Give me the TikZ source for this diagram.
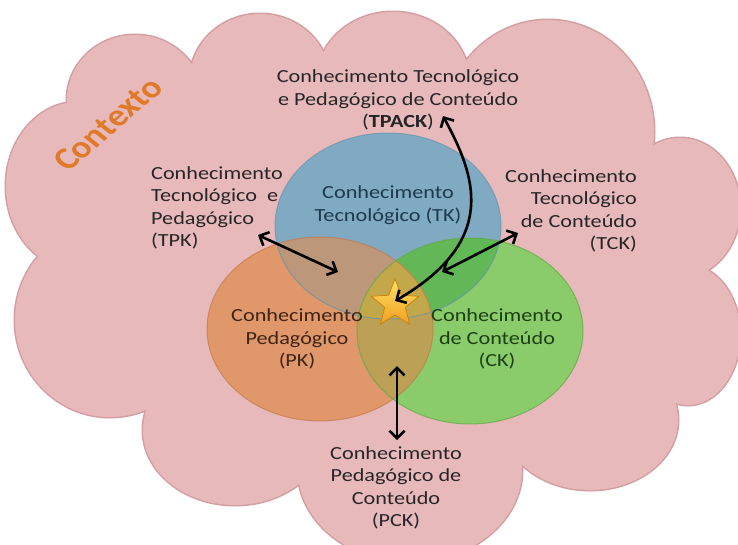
\documentclass[tikz,border=0pt]{standalone}
\usepackage{fontspec}
\setmainfont{Carlito}[FakeStretch=1.2]
\newfontfamily\ctxfont{Carlito}
\usetikzlibrary{arrows.meta,shapes.geometric}
\definecolor{cloudpink}{HTML}{E8B9BB}
\definecolor{cloudedge}{HTML}{D39EA2}
\definecolor{tkblue}{HTML}{80AAC2}
\definecolor{pkorange}{HTML}{E0976A}
\definecolor{ckgreen}{HTML}{8ACB6A}
\definecolor{tkpk}{HTML}{BC977A}
\definecolor{tkck}{HTML}{62B856}
\definecolor{pkck}{HTML}{BBA055}
\definecolor{allc}{HTML}{C2A84A}
\definecolor{tkedge}{HTML}{6893AC}
\definecolor{pkedge}{HTML}{C47A4C}
\definecolor{ckedge}{HTML}{62A843}
\definecolor{txtgray}{HTML}{262626}
\definecolor{tktext}{HTML}{1E3A4C}
\definecolor{pktext}{HTML}{3E2415}
\definecolor{cktext}{HTML}{1C3F14}
\definecolor{ctxorange}{HTML}{E07A28}
\definecolor{starA}{HTML}{FFE066}
\definecolor{starB}{HTML}{F0A020}
\definecolor{staredge}{HTML}{C8860E}
\tikzset{
  lbl/.style={font=\fontsize{18.5}{22.5}\selectfont, text=txtgray, inner sep=0pt},
  arr/.style={line width=2.6pt, black,
    {Straight Barb[length=7.5pt,width=15pt,line width=2.6pt]}-{Straight Barb[length=7.5pt,width=15pt,line width=2.6pt]}},
}
\begin{document}
\begin{tikzpicture}[x=1pt,y=-1pt]
\useasboundingbox (0,0) rectangle (738,544);
\fill[white] (0,0) rectangle (738,544);
\begin{scope}
\clip (0,0) rectangle (738,544);
% cloud as union of bumps
\def\cloudbumps{
  (78,186) ellipse [x radius=72, y radius=84]
  (135,100) ellipse [x radius=68, y radius=65]
  (260,80) ellipse [x radius=70, y radius=66]
  (393,80) ellipse [x radius=76, y radius=68]
  (548,132) ellipse [x radius=106, y radius=112]
  (680,208) ellipse [x radius=60, y radius=70]
  (688,335) ellipse [x radius=52, y radius=70]
  (590,420) ellipse [x radius=88, y radius=70]
  (410,470) ellipse [x radius=112, y radius=92]
  (235,430) ellipse [x radius=92, y radius=75]
  (110,320) ellipse [x radius=95, y radius=97]
}
\draw[cloudedge, line width=3pt] \cloudbumps;
\fill[cloudpink] \cloudbumps;
\fill[cloudpink] (78,186) -- (135,100) -- (260,80) -- (393,80) -- (548,132) -- (680,208)
  -- (688,335) -- (590,420) -- (410,470) -- (235,430) -- (110,320) -- cycle;
\end{scope}
% Contexto
\begin{scope}[shift={(108,124)}, xscale=1.2]
\node[rotate=46, transform shape, inner sep=0pt, text=ctxorange,
  font=\ctxfont\bfseries\fontsize{31}{36}\selectfont] (ctx) at (0,0) {Contexto};
\end{scope}
% ellipses
\def\TK{(388,226) ellipse [x radius=113, y radius=93]}
\def\PK{(320,329) ellipse [x radius=113, y radius=92]}
\def\CK{(470,331) ellipse [x radius=113, y radius=93]}
\fill[pkorange] \PK;
\fill[ckgreen] \CK;
\fill[tkblue] \TK;
\begin{scope}\clip \TK; \fill[tkpk] \PK; \end{scope}
\begin{scope}\clip \TK; \fill[tkck] \CK; \end{scope}
\begin{scope}\clip \PK; \fill[pkck] \CK; \end{scope}
\begin{scope}\clip \TK; \clip \PK; \fill[allc] \CK; \end{scope}
\draw[tkedge, line width=1pt, opacity=0.7] \TK;
\draw[pkedge, line width=1pt, opacity=0.7] \PK;
\draw[ckedge, line width=1pt, opacity=0.7] \CK;
% texts
\node[lbl, align=center] (tpack) at (398,100)
  {\fontsize{18.5}{24}\selectfont Conhecimento Tecnológico\\e Pedagógico de Conteúdo\\(\textbf{TPACK})};
\node[lbl, align=left, anchor=west] (tpk) at (151,208)
  {Conhecimento\\Tecnológico~~e\\Pedagógico\\(TPK)};
\node[lbl, align=right, anchor=east] (tck) at (637,211)
  {Conhecimento\\Tecnológico\\de Conteúdo\\(TCK)};
\node[lbl, align=center, text=tktext] (tk) at (388,205)
  {Conhecimento\\Tecnológico (TK)};
\node[lbl, align=center, text=pktext] (pk) at (297,339)
  {Conhecimento\\Pedagógico\\(PK)};
\node[lbl, align=center, text=cktext] (ck) at (497,339)
  {Conhecimento\\de Conteúdo\\(CK)};
\node[lbl, align=center] (pck) at (396,488)
  {Conhecimento\\Pedagógico de\\Conteúdo\\(PCK)};
% star
\node[star, star points=5, star point ratio=2.3, minimum size=50pt, inner sep=0pt,
  draw=staredge, line width=0.8pt, top color=starA, bottom color=starB] (st) at (395,304) {};
% arrow end points
\coordinate (tpkEnd) at (258,235);
\coordinate (tpkIn) at (338,272);
\coordinate (tckEnd) at (518,233);
\coordinate (tckIn) at (442,272);
\coordinate (tpackEnd) at (443,116);
\coordinate (pckTop) at (397,366);
\coordinate (pckEnd) at (397,440);
\draw[arr] (tpkEnd) -- (tpkIn);
\draw[arr] (tckEnd) -- (tckIn);
\draw[arr] (tpackEnd) .. controls (475,175) and (500,240) .. ([shift={(0,-3)}]st.center);
\draw[arr] (pckTop) -- (pckEnd);
\end{tikzpicture}
\end{document}
